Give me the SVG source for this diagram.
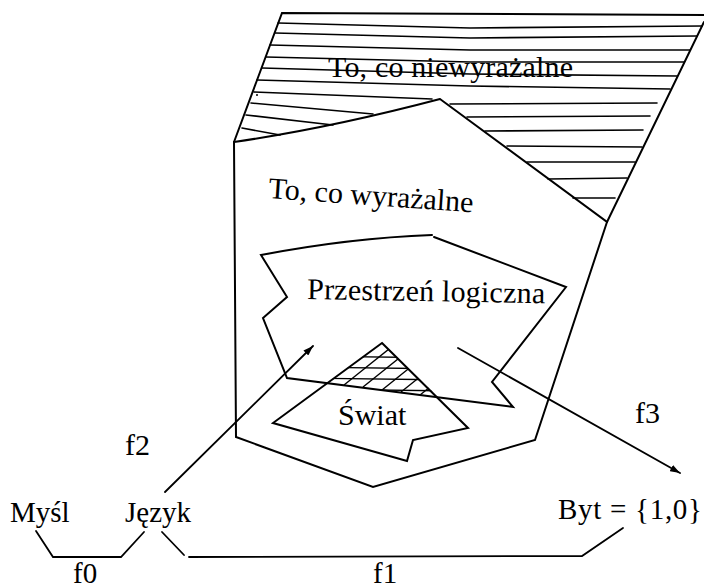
<svg xmlns="http://www.w3.org/2000/svg" width="704" height="584" viewBox="0 0 704 584">
<defs>
<style>
.o{fill:none;stroke:#000;stroke-width:2;stroke-linejoin:miter;stroke-linecap:round}
.h{fill:none;stroke:#000;stroke-width:1.6;stroke-linecap:round}
.x{fill:none;stroke:#000;stroke-width:1.4}
.c{fill:none;stroke:#000;stroke-width:1.8;stroke-linecap:round}
text{font-family:"Liberation Serif","Times New Roman",serif;fill:#000}
</style>
<marker id="ah" viewBox="0 0 10 7" refX="10" refY="3.5" markerWidth="10" markerHeight="7" markerUnits="userSpaceOnUse" orient="auto">
<path d="M0,0 L10,3.5 L0,7 z" fill="#000"/>
</marker>
<clipPath id="swclip">
<polygon points="382,343 327,383 438,397"/>
</clipPath>
</defs>
<rect width="704" height="584" fill="#fff"/>

<g id="niewyrazalne">
<path class="o" d="M234,142 L282,13 L710,15 M704,22 L607,222"/>
<g class="h">
<path d="M278,23 L470,28 L702,26"/>
<path d="M275,33 L470,38 L697,36"/>
<path d="M270,45 L470,50 L690,50"/>
<path d="M266,57 L470,62 L684,62"/>
<path d="M262,68 L470,74 L677,76"/>
<path d="M257,80 L470,86 L670,89"/>
<path d="M254,92 L432,99"/>
<path d="M450,104 L657,103"/>
<path d="M251,103 L373,114"/>
<path d="M467,117 L650,116"/>
<path d="M246,115 L333,125"/>
<path d="M485,131 L643,130"/>
<path d="M242,128 L280,135"/>
<path d="M507,146 L642,147"/>
<path d="M527,162 L635,162"/>
<path d="M548,179 L627,178"/>
<path d="M573,198 L615,198"/>
</g>
<circle cx="257" cy="95" r="1" fill="#000"/>
<text x="328" y="77" font-size="30" textLength="245">To, co niewyrażalne</text>
</g>

<g id="wyrazalne">
<path class="o" d="M234,142 Q330,128 440,99 L607,222 L535,440 L373,487 L236,437 Z"/>
<text transform="translate(268,198) rotate(4)" font-size="30">To, co wyrażalne</text>
</g>

<g id="przestrzen">
<path class="o" d="M434,237 L566,287 L492,382 L513,407 L287,378 L263,318 L287,297 L261,255 Q350,238 432,235"/>
<text transform="translate(307,299) rotate(1)" font-size="30" textLength="238">Przestrzeń logiczna</text>
</g>

<g id="swiat">
<path class="o" d="M382,343 L468,428 L413,440 L407,461 L273,423 Z"/>
<g clip-path="url(#swclip)" class="x">
<path d="M300,356 L460,358"/>
<path d="M300,367 L460,369"/>
<path d="M300,378 L460,380"/>
<path d="M300,389 L460,391"/>
<path d="M344,385 L414,329"/>
<path d="M363,387 L433,331"/>
<path d="M382,390 L452,334"/>
<path d="M401,392 L471,336"/>
<path d="M420,395 L490,339"/>
</g>
<text x="338" y="425" font-size="30">Świat</text>
</g>

<g id="mysl">
<text x="10" y="522" font-size="29">Myśl</text>
</g>
<g id="jezyk">
<text x="125" y="522" font-size="29">Język</text>
</g>
<g id="byt">
<text x="558" y="519" font-size="29" textLength="144">Byt = {1,0}</text>
</g>

<g id="connectors">
<path class="c" d="M165,492 L313,346" marker-end="url(#ah)"/>
<path class="c" d="M458,348 L680,473" marker-end="url(#ah)"/>
<path class="c" d="M36,531 L53,557 L121,557 L144,532"/>
<path class="c" d="M162,532 L184,555"/>
<path class="c" d="M189,557 L582,556 L623,528"/>
</g>

<g id="labels">
<text x="73" y="583" font-size="29">f0</text>
<text x="373" y="583" font-size="29">f1</text>
<text x="125" y="455" font-size="30">f2</text>
<text x="635" y="423" font-size="30">f3</text>
</g>
</svg>
